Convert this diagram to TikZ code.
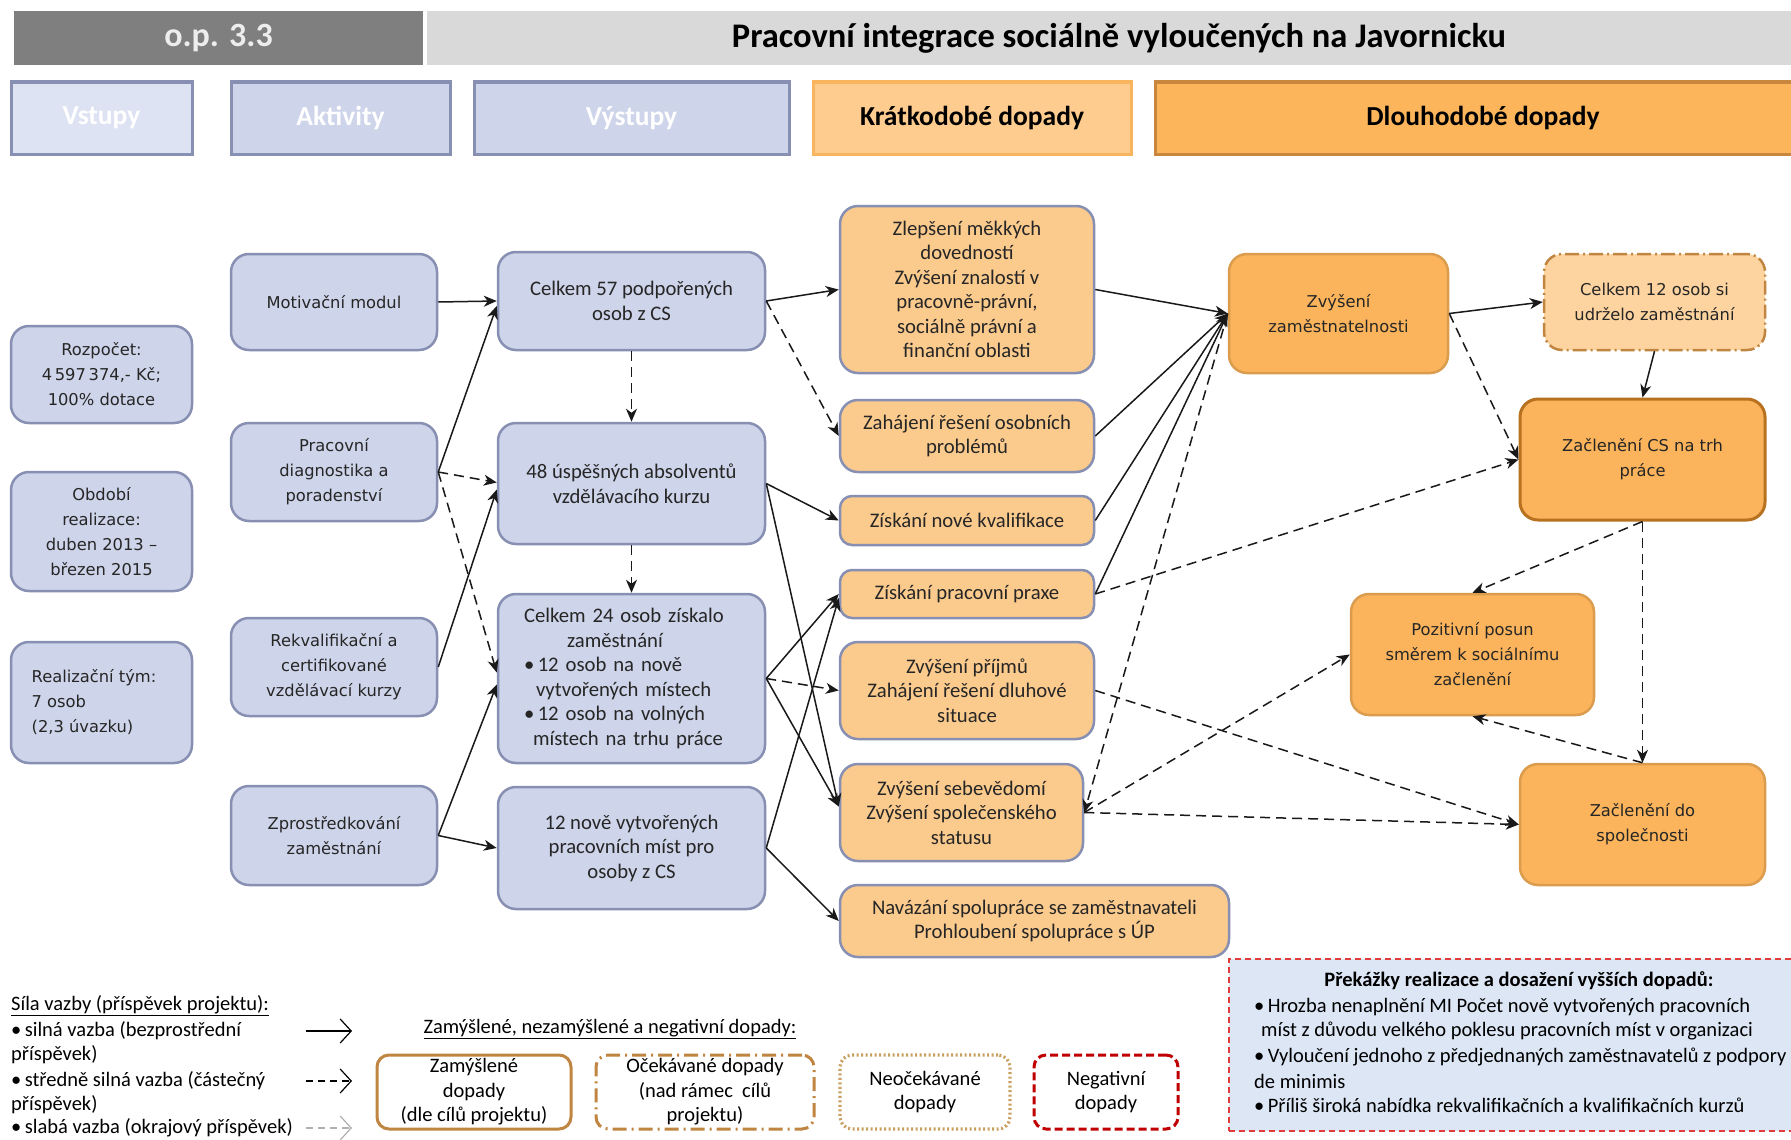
\documentclass[tikz,border=0pt]{standalone}
\usepackage{fontspec}
\setmainfont{Carlito}
\newfontfamily\vfont{DejaVu Sans}
\usetikzlibrary{arrows.meta}
\definecolor{bfill}{HTML}{CED4E9}
\definecolor{bdraw}{HTML}{8790B2}
\definecolor{hfill}{HTML}{DDE3F2}
\definecolor{sfill}{HTML}{FBCA8D}
\definecolor{lfill}{HTML}{FBB45B}
\definecolor{ldraw}{HTML}{DB9C4E}
\definecolor{ldark}{HTML}{B8721F}
\definecolor{cfill}{HTML}{FDD4A0}
\definecolor{lbrown}{HTML}{C08540}
\definecolor{ltan}{HTML}{C9A060}
\definecolor{negred}{HTML}{C00000}
\definecolor{pfill}{HTML}{DCE6F4}
\definecolor{pred}{HTML}{E03C3C}
\definecolor{opgray}{HTML}{7F7F7F}
\definecolor{titlegray}{HTML}{D9D9D9}
\definecolor{kfill}{HTML}{FFCC8F}
\definecolor{kdraw}{HTML}{F9B45E}
\definecolor{dfill}{HTML}{FCB55A}
\definecolor{ddraw}{HTML}{C8873C}
\definecolor{txt}{HTML}{262626}
\definecolor{lgray}{HTML}{B0B0B0}
\begin{document}
\begin{tikzpicture}[x=1pt,y=-1pt,
  box/.style={rounded corners=18pt, line width=2.5pt, inner sep=0pt, align=center, text=txt},
  vtext/.style={font=\vfont\fontsize{16.3}{25}\selectfont},
  ctext/.style={font=\fontsize{20.7}{24.5}\selectfont},
  bluebox/.style={box, fill=bfill, draw=bdraw},
  sbox/.style={box, fill=sfill, draw=bdraw, ctext},
  lbox/.style={box, fill=lfill, draw=ldraw, vtext},
  hdr/.style={inner sep=0pt, line width=3pt, font=\bfseries\fontsize{27.5}{32}\selectfont, minimum height=72pt},
  con/.style={line width=1.5pt, draw=black!90, -{Stealth[length=13pt,width=11pt,inset=4pt]}},
  dcon/.style={con, dash pattern=on 10pt off 6pt},
  leg/.style={anchor=west, inner sep=0pt, font=\fontsize{20.5}{24}\selectfont, text=black},
  legbox/.style={rounded corners=12pt, line width=3pt, fill=white, inner sep=0pt, align=center, font=\fontsize{20.5}{24.5}\selectfont, minimum height=74pt},
  ptext/.style={anchor=west, inner sep=0pt, font=\fontsize{20.5}{24}\selectfont, text=black}
]
\fill[white] (0,0) rectangle (1791,1140);
\useasboundingbox (0,0) rectangle (1791,1140);

% header
\node[fill=opgray, minimum width=409pt, minimum height=54pt, inner sep=0pt, text=white!93!black, font=\bfseries\fontsize{34}{40}\selectfont] (op) at (218.5,38) {o.p. 3.3};
\node[fill=titlegray, minimum width=1384pt, minimum height=54pt, inner sep=0pt, text=black, font=\bfseries\fontsize{34.5}{40}\selectfont] (title) at (1119,38) {Pracovní integrace sociálně vyloučených na Javornicku};

\node[hdr, fill=hfill, draw=bdraw, text=white, minimum width=181pt] (hvst) at (101.5,118) {Vstupy};
\node[hdr, fill=bfill, draw=bdraw, text=white, minimum width=219pt] (hakt) at (340.5,118) {Aktivity};
\node[hdr, fill=bfill, draw=bdraw, text=white, minimum width=315pt] (hvys) at (631.5,118) {Výstupy};
\node[hdr, fill=kfill, draw=kdraw, text=black, minimum width=318pt] (hkrat) at (972,118) {Krátkodobé dopady};
\node[hdr, fill=dfill, draw=ddraw, text=black, minimum width=656pt] (hdlou) at (1483,118) {Dlouhodobé dopady};

% inputs
\node[bluebox, vtext, minimum width=181pt, minimum height=97pt] (roz) at (101.5,374.5) {Rozpočet:\\4\,597\,374,- Kč;\\100\% dotace};
\node[bluebox, vtext, minimum width=181pt, minimum height=119pt] (obd) at (101.5,531.5) {Období\\realizace:\\duben 2013 –\\březen 2015};
\node[bluebox, vtext, minimum width=181pt, minimum height=121pt, align=left] (tym) at (101.5,702.5) {Realizační tým:\\7 osob\\(2,3 úvazku)\hspace*{38pt}};

% activities
\node[bluebox, vtext, minimum width=206pt, minimum height=96pt] (mot) at (334,302) {Motivační modul};
\node[bluebox, vtext, minimum width=206pt, minimum height=98pt] (diag) at (334,472) {Pracovní\\diagnostika a\\poradenství};
\node[bluebox, vtext, minimum width=206pt, minimum height=98pt] (rekv) at (334,667) {Rekvalifikační a\\certifikované\\vzdělávací kurzy};
\node[bluebox, vtext, minimum width=206pt, minimum height=99pt] (zpro) at (334,835.5) {Zprostředkování\\zaměstnání};

% outputs
\node[bluebox, ctext, minimum width=267pt, minimum height=98pt] (c57) at (631.5,301) {Celkem 57 podpořených\\osob z CS};
\node[bluebox, ctext, minimum width=267pt, minimum height=121pt] (a48) at (631.5,483.5) {48 úspěšných absolventů\\vzdělávacího kurzu};
\node[bluebox, ctext, minimum width=267pt, minimum height=169pt, text width=215pt, align=left] (c24) at (631.5,678.5) {Celkem 24 osob získalo\\\hspace*{43pt}zaměstnání\\•\,12 osob na nově\\\hspace*{12pt}vytvořených místech\\•\,12 osob na volných\\\hspace*{9pt}místech na trhu práce};
\node[bluebox, ctext, minimum width=267pt, minimum height=122pt] (m12) at (631.5,848) {12 nově vytvořených\\pracovních míst pro\\osoby z CS};

% short-term
\node[sbox, minimum width=254pt, minimum height=167pt] (zlep) at (967,289.5) {Zlepšení měkkých\\dovedností\\Zvýšení znalostí v\\pracovně-právní,\\sociálně právní a\\finanční oblasti};
\node[sbox, minimum width=254pt, minimum height=72pt] (oso) at (967,436) {Zahájení řešení osobních\\problémů};
\node[sbox, minimum width=254pt, minimum height=49pt, rounded corners=12pt] (kval) at (967,520.5) {Získání nové kvalifikace};
\node[sbox, minimum width=254pt, minimum height=48pt, rounded corners=12pt] (prax) at (967,594) {Získání pracovní praxe};
\node[sbox, minimum width=254pt, minimum height=97pt] (prij) at (967,690.5) {Zvýšení příjmů\\Zahájení řešení dluhové\\situace};
\node[sbox, minimum width=243pt, minimum height=97pt] (sebe) at (961.5,812.5) {Zvýšení sebevědomí\\Zvýšení společenského\\statusu};
\node[sbox, minimum width=389pt, minimum height=72pt] (nav) at (1034.5,921) {Navázání spolupráce se zaměstnavateli\\Prohloubení spolupráce s ÚP};

% long-term
\node[lbox, minimum width=219pt, minimum height=119pt] (zz) at (1338.5,313.5) {Zvýšení\\zaměstnatelnosti};
\node[box, vtext, fill=cfill, draw=lbrown, dash pattern=on 14pt off 4pt on 2pt off 4pt, minimum width=221pt, minimum height=96pt] (c12) at (1654.5,302) {Celkem 12 osob si\\udrželo zaměstnání};
\node[lbox, draw=ldark, line width=3pt, minimum width=245pt, minimum height=121pt] (ztrh) at (1642.5,459.5) {Začlenění CS na trh\\práce};
\node[lbox, minimum width=243pt, minimum height=121pt] (poz) at (1472.5,654.5) {Pozitivní posun\\směrem k sociálnímu\\začlenění};
\node[lbox, minimum width=245pt, minimum height=121pt] (zspol) at (1642.5,824.5) {Začlenění do\\společnosti};

% connectors: activities -> outputs
\draw[con] (mot.east) -- (c57.west);
\draw[con] (diag.east) -- ([yshift=-5pt]c57.west);
\draw[dcon] (diag.east) -- ([yshift=1pt]a48.west);
\draw[dcon] (diag.east) -- ([yshift=6pt]c24.west);
\draw[con] (rekv.east) -- ([yshift=-6pt]a48.west);
\draw[con] (zpro.east) -- ([yshift=-6pt]c24.west);
\draw[con] (zpro.east) -- (m12.west);
\draw[dcon] (c57.south) -- (a48.north);
\draw[dcon] (a48.south) -- (c24.north);
% outputs -> short-term
\draw[con] (c57.east) -- (zlep.west);
\draw[dcon] (c57.east) -- (oso.west);
\draw[con] (a48.east) -- (kval.west);
\draw[con] (a48.east) -- ([yshift=6pt]sebe.west);
\draw[con] (c24.east) -- (prax.west);
\draw[dcon] (c24.east) -- (prij.west);
\draw[con] (c24.east) -- ([yshift=6pt]sebe.west);
\draw[con] (m12.east) -- ([yshift=-4pt]prax.west);
\draw[con] (m12.east) -- (nav.west);
% short-term -> long-term
\draw[con] (zlep.east) -- (zz.west);
\draw[con] (oso.east) -- (zz.west);
\draw[con] (kval.east) -- (zz.west);
\draw[con] (prax.east) -- (zz.west);
\draw[dcon] (zz.west) -- (sebe.east);
\draw[dcon] (prax.east) -- (ztrh.west);
\draw[dcon] (prij.east) -- (zspol.west);
\draw[dcon] (sebe.east) -- (poz.west);
\draw[dcon] (sebe.east) -- (zspol.west);
% long-term
\draw[con] (zz.east) -- (c12.west);
\draw[dcon] (zz.east) -- (ztrh.west);
\draw[con] (c12.south) -- (ztrh.north);
\draw[dcon] (ztrh.south) -- (poz.north);
\draw[dcon] (ztrh.south) -- (zspol.north);
\draw[dcon] (zspol.north) -- (poz.south);

% legend: strength
\node[leg] (lt) at (11,1006) {\underline{Síla vazby (příspěvek projektu):}};
\node[leg] (l1) at (11,1031) {•\,silná vazba (bezprostřední};
\node[leg] (l1b) at (11,1055) {příspěvek)};
\node[leg] (l2) at (11,1081) {•\,středně silná vazba (částečný};
\node[leg] (l2b) at (11,1105) {příspěvek)};
\node[leg] (l3) at (11,1128) {•\,slabá vazba (okrajový příspěvek)};
\coordinate (a1s) at (306,1031); \coordinate (a1e) at (352,1031);
\coordinate (a2s) at (306,1081); \coordinate (a2e) at (352,1081);
\coordinate (a3s) at (306,1128); \coordinate (a3e) at (352,1128);
\draw[line width=1.2pt, -{Straight Barb[length=11pt,width=24pt]}] (a1s) -- (a1e);
\draw[line width=1.2pt, dash pattern=on 7pt off 5pt, -{Straight Barb[length=11pt,width=24pt]}] (a2s) -- (a2e);
\draw[line width=1.2pt, lgray, dash pattern=on 7pt off 5pt, -{Straight Barb[length=11pt,width=24pt]}] (a3s) -- (a3e);

% legend: impact types
\node[inner sep=0pt, font=\fontsize{20.5}{24}\selectfont] (lit) at (610,1029) {\underline{Zamýšlené, nezamýšlené a negativní dopady:}};
\node[legbox, draw=lbrown, minimum width=194pt] (lzam) at (474,1092) {Zamýšlené\\dopady\\(dle cílů projektu)};
\node[legbox, draw=lbrown, dash pattern=on 14pt off 5pt on 2pt off 5pt, minimum width=218pt] (locek) at (705,1092) {Očekávané dopady\\(nad rámec\ \ cílů\\projektu)};
\node[legbox, draw=ltan, line width=3.2pt, dash pattern=on 2pt off 2.5pt, minimum width=170pt] (lneo) at (925,1092) {Neočekávané\\dopady};
\node[legbox, draw=negred, dash pattern=on 8pt off 4pt, minimum width=144pt] (lneg) at (1106,1092) {Negativní\\dopady};

% obstacles
\node[draw=pred, fill=pfill, line width=2pt, dash pattern=on 6pt off 4pt, minimum width=580pt, minimum height=172pt, inner sep=0pt] (prek) at (1519,1045) {};
\node[inner sep=0pt, font=\bfseries\fontsize{20.5}{24}\selectfont] (pt) at (1519,981) {Překážky realizace a dosažení vyšších dopadů:};
\node[ptext] (p1) at (1254,1007) {•\,Hrozba nenaplnění MI Počet nově vytvořených pracovních};
\node[ptext] (p2) at (1261,1031) {míst z důvodu velkého poklesu pracovních míst v organizaci};
\node[ptext] (p3) at (1254,1057) {•\,Vyloučení jednoho z předjednaných zaměstnavatelů z podpory};
\node[ptext] (p4) at (1254,1081) {de minimis};
\node[ptext] (p5) at (1254,1105) {•\,Příliš široká nabídka rekvalifikačních a kvalifikačních kurzů};
\end{tikzpicture}
\end{document}
